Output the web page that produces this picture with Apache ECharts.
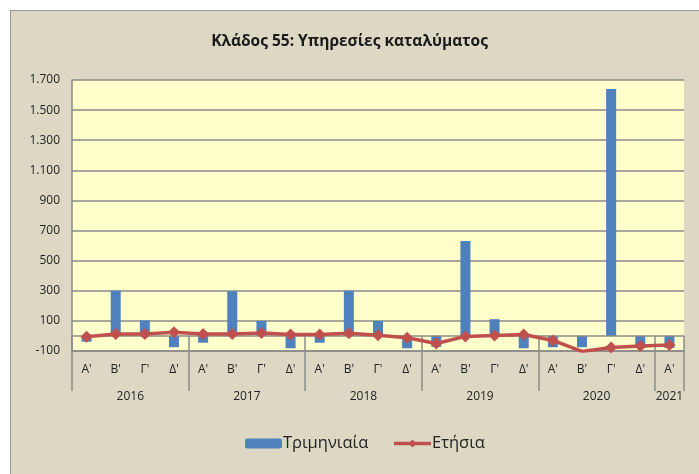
<!DOCTYPE html>
<html>
<head>
<meta charset="utf-8">
<script src="https://cdn.jsdelivr.net/npm/echarts@6/dist/echarts.min.js"></script>
<style>
  html, body { margin: 0; padding: 0; background: #fff; }
  #frame {
    position: absolute; left: 10px; top: 10px; width: 689px; height: 464px;
    background: #ddd8c4; border-top: 1px solid #9a9a9a; border-left: 1px solid #9a9a9a;
  }
  #chart { position: absolute; left: -11px; top: -11px; width: 699px; height: 474px; }
</style>
</head>
<body>
<div id="frame"><div id="chart"></div></div>
<script>
// quarter labels along the x axis
const quarters = ["Α'", "Β'", "Γ'", "Δ'", "Α'", "Β'", "Γ'", "Δ'", "Α'", "Β'", "Γ'", "Δ'",
                  "Α'", "Β'", "Γ'", "Δ'", "Α'", "Β'", "Γ'", "Δ'", "Α'"];
// year groups: label, position of centre, boundaries (in category units)
const years = ['2016', '2017', '2018', '2019', '2020', '2021'];
const yearCentres = [2, 6, 10, 14, 18, 20.5];
const yearBounds = [0, 4, 8, 12, 16, 20, 21];

const quarterly = [-38, 300, 103, -75, -45, 297, 100, -82, -45, 300, 100, -82,
                   -72, 630, 111, -82, -75, -75, 1640, -80, -80];   // Τριμηνιαία
const annual = [-5, 13, 13, 25, 13, 13, 20, 9, 9, 18, 5, -12,
                -50, -3, 3, 10, -30, -103, -77, -67, -60];          // Ετήσια

const yTicks = [-100, 100, 300, 500, 700, 900, 1100, 1300, 1500, 1700];

const FONT = '"Open Sans", "DejaVu Sans", sans-serif';
const GRIDC = '#8a8a8a';

var chart = echarts.init(document.getElementById('chart'));

var option = {
    backgroundColor: 'transparent',
    textStyle: { fontFamily: FONT },
    title: {
        text: 'Κλάδος 55: Υπηρεσίες καταλύματος',
        left: 'center',
        top: 29,
        textStyle: { fontSize: 15.5, fontWeight: 'bold', color: '#1a1a1a', fontFamily: FONT }
    },
    legend: {
        bottom: 17,
        left: 240,
        itemGap: 24,
        itemHeight: 10,
        itemWidth: 37,
        textStyle: { fontSize: 16.5, color: '#222', fontFamily: FONT, padding: [0, 0, 0, -4] },
        data: [
            { name: 'Τριμηνιαία', itemStyle: { color: '#4f81bd' } },
            { name: 'Ετήσια', lineStyle: { width: 3.5, color: '#c0504d' } }
        ]
    },
    grid: {
        left: 72, right: 15, top: 80, bottom: 123,
        show: true, backgroundColor: '#ffffcc', borderWidth: 0
    },
    xAxis: [
        {
            type: 'category',
            data: quarters,
            position: 'bottom',
            axisLine: { onZero: false, lineStyle: { color: GRIDC, width: 1.5 } },
            axisTick: { show: false },
            axisLabel: { fontSize: 12, color: '#222', margin: 13 },
            splitLine: { show: false }
        },
        {
            type: 'value',
            min: 0, max: 21,
            position: 'bottom',
            axisLine: { show: false },
            axisTick: { show: true, customValues: yearBounds, length: 55,
                        lineStyle: { color: GRIDC, width: 1.5 } },
            axisLabel: {
                customValues: yearCentres,
                fontSize: 12, color: '#222', margin: 40,
                formatter: function (v) { return years[yearCentres.indexOf(v)]; }
            },
            splitLine: { show: false }
        }
    ],
    yAxis: {
        type: 'value',
        min: -100, max: 1700,
        axisLine: { show: true, lineStyle: { color: GRIDC, width: 1.5 } },
        axisTick: { show: false, customValues: yTicks },
        axisLabel: {
            customValues: yTicks,
            fontSize: 12, color: '#222', margin: 12,
            formatter: function (v) { return String(v).replace(/\B(?=(\d{3})+(?!\d))/g, '.'); }
        },
        splitLine: { show: true, lineStyle: { color: GRIDC, width: 1.5 } }
    },
    series: [
        {
            name: 'Τριμηνιαία',
            type: 'bar',
            data: quarterly,
            barWidth: 10,
            itemStyle: { color: '#4f81bd' },
            markLine: {
                silent: true,
                symbol: 'none',
                label: { show: false },
                lineStyle: { color: GRIDC, width: 1.5, type: 'solid' },
                data: [{ yAxis: 0 }]
            }
        },
        {
            name: 'Ετήσια',
            type: 'line',
            data: annual,
            z: 5,
            symbol: 'diamond',
            symbolSize: 12,
            lineStyle: { color: '#c0504d', width: 3.5 },
            itemStyle: { color: '#c0504d' }
        }
    ]
};

chart.setOption(option);
</script>
</body>
</html>
